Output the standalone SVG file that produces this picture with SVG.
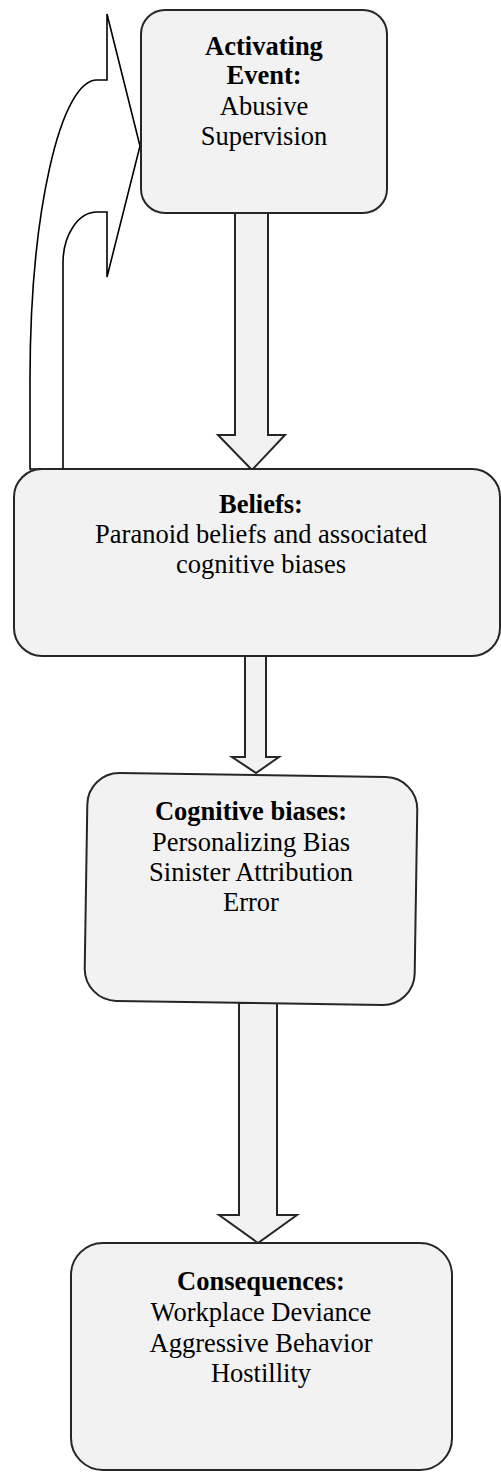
<svg xmlns="http://www.w3.org/2000/svg" width="501" height="1479" viewBox="0 0 501 1479">
<style>
.box{fill:#f2f2f2;stroke:#262626;stroke-width:2}
.arr{fill:#f2f2f2;stroke:#262626;stroke-width:2;stroke-linejoin:miter}
.curve{fill:#ffffff;stroke:#000;stroke-width:1.6;stroke-linejoin:miter}
text{font-family:"Liberation Serif","Times New Roman",serif;font-size:26.5px;fill:#000;text-anchor:middle}
.b{font-weight:bold}
</style>
<rect width="501" height="1479" fill="#ffffff"/>
<g id="connectors">
<path class="curve" d="M30,469 L30,380 A67,300 0 0 1 97,80 L107,80 L107,14 L140,146 L107,277 L107,212 L97,212 A34,51 0 0 0 63,263 L63,469 Z"/>
<path class="arr" d="M235,213 L268,213 L268,435 L285,435 L252,470 L218,435 L235,435 Z"/>
<path class="arr" d="M245,656 L266,656 L266,757 L279,757 L256,773 L232,757 L245,757 Z"/>
<path class="arr" d="M239,1003 L277,1003 L277,1215 L297,1215 L258,1243 L219,1215 L239,1215 Z"/>
</g>
<g id="activating">
<rect class="box" x="141" y="10" width="246" height="203" rx="24"/>
<text class="b" x="264" y="55">Activating</text>
<text class="b" x="264" y="84">Event:</text>
<text x="264" y="115">Abusive</text>
<text x="264" y="145">Supervision</text>
</g>
<g id="beliefs">
<rect class="box" x="14" y="469" width="486" height="187" rx="28"/>
<text class="b" x="261" y="513">Beliefs:</text>
<text x="261" y="543">Paranoid beliefs and associated</text>
<text x="261" y="573">cognitive biases</text>
</g>
<g id="cognitive">
<rect class="box" x="86" y="775" width="330" height="228" rx="32" transform="rotate(0.9 251 889)"/>
<text class="b" x="251" y="820">Cognitive biases:</text>
<text x="251" y="851">Personalizing Bias</text>
<text x="251" y="881">Sinister Attribution</text>
<text x="251" y="911">Error</text>
</g>
<g id="consequences">
<rect class="box" x="71" y="1243" width="381" height="227" rx="32"/>
<text class="b" x="261" y="1290">Consequences:</text>
<text x="261" y="1321">Workplace Deviance</text>
<text x="261" y="1352">Aggressive Behavior</text>
<text x="261" y="1382">Hostillity</text>
</g>
</svg>
